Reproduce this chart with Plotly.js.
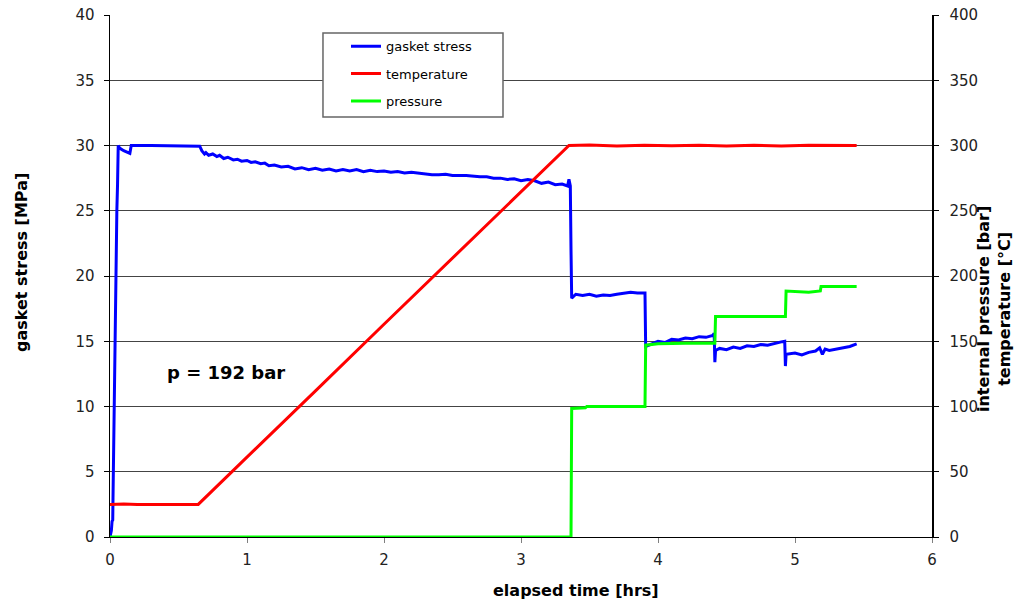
<!DOCTYPE html>
<html><head><meta charset="utf-8">
<script src="https://cdn.plot.ly/plotly-3.0.1.min.js"></script>
<style>html,body{margin:0;padding:0;background:#fff;}#chart{width:1017px;height:607px;}</style>
</head><body><div id="chart"></div>
<script>
const seriesNames = ['gasket stress', 'temperature', 'pressure'];
const xTickValues = [0, 1, 2, 3, 4, 5, 6];

const stressTime = [
  0, 0.01, 0.015, 0.02, 0.022, 0.03, 0.035, 0.04, 0.045, 0.05,
  0.055, 0.06, 0.07, 0.1, 0.145, 0.155, 0.3, 0.5, 0.655, 0.67,
  0.69, 0.7, 0.72, 0.75, 0.78, 0.8, 0.83, 0.86, 0.9, 0.93,
  0.96, 1.0, 1.03, 1.06, 1.1, 1.13, 1.16, 1.2, 1.25, 1.3,
  1.35, 1.4, 1.45, 1.5, 1.55, 1.6, 1.65, 1.7, 1.75, 1.8,
  1.85, 1.9, 1.95, 2.0, 2.05, 2.1, 2.15, 2.2, 2.3, 2.35,
  2.4, 2.45, 2.5, 2.6, 2.7, 2.75, 2.8, 2.85, 2.9, 2.95,
  3.0, 3.05, 3.1, 3.15, 3.2, 3.25, 3.3, 3.34, 3.35, 3.36,
  3.365, 3.37, 3.4, 3.45, 3.5, 3.55, 3.6, 3.65, 3.7, 3.75,
  3.8, 3.85, 3.9, 3.905, 3.91, 3.95, 4.0, 4.05, 4.1, 4.15,
  4.2, 4.25, 4.3, 4.35, 4.4, 4.41, 4.415, 4.42, 4.45, 4.5,
  4.55, 4.6, 4.65, 4.7, 4.75, 4.8, 4.85, 4.9, 4.925, 4.93,
  4.935, 5.0, 5.05, 5.1, 5.15, 5.18, 5.2, 5.22, 5.25, 5.3,
  5.35, 5.4, 5.45
];
const stressValue = [
  0, 0.5, 1.2, 1.3, 3.0, 10, 14, 20, 21, 25,
  27, 30.0, 29.8, 29.6, 29.4, 30.0, 30.0, 29.95, 29.95, 29.6,
  29.35, 29.45, 29.25, 29.35, 29.15, 29.25, 29.0, 29.1, 28.9, 28.95,
  28.8, 28.85, 28.7, 28.75, 28.6, 28.65, 28.45, 28.5, 28.35, 28.4,
  28.2, 28.3, 28.15, 28.25, 28.1, 28.2, 28.05, 28.15, 28.05, 28.15,
  28.0, 28.1, 28.0, 28.05, 27.95, 28.0, 27.9, 27.95, 27.8, 27.75,
  27.75, 27.8, 27.7, 27.7, 27.6, 27.6, 27.5, 27.5, 27.4, 27.45,
  27.3, 27.4, 27.3, 27.1, 27.2, 27.0, 27.05, 26.9, 27.4, 26.9,
  22, 18.3, 18.6, 18.5, 18.6, 18.45, 18.55, 18.5, 18.6, 18.65,
  18.75, 18.7, 18.65, 18.7, 14.6, 14.8, 15.0, 14.9, 15.15, 15.1,
  15.25, 15.2, 15.35, 15.3, 15.45, 15.6, 13.4, 14.3, 14.45, 14.35,
  14.55, 14.45, 14.65, 14.6, 14.75, 14.7, 14.85, 14.95, 15.0, 13.1,
  14.0, 14.1, 13.95, 14.15, 14.25, 14.5, 14.0, 14.4, 14.3, 14.4,
  14.5, 14.6, 14.8
];

const tempTime = [0, 0.1, 0.2, 0.3, 0.4, 0.5, 0.644, 1.0, 1.5, 2.0, 2.5, 3.0, 3.35,
  3.5, 3.7, 3.9, 4.1, 4.3, 4.5, 4.7, 4.9, 5.1, 5.3, 5.45];
const tempValue = [25, 25.3, 24.9, 25.1, 24.9, 25, 25, 61, 112, 163, 214, 265, 300,
  300.3, 299.7, 300.2, 299.8, 300.2, 299.6, 300.1, 299.7, 300.2, 299.8, 300];

const pressureTime = [0, 3.365, 3.37, 3.47, 3.48, 3.905, 3.91, 4.0, 4.2, 4.415, 4.42,
  4.93, 4.935, 5.05, 5.1, 5.185, 5.19, 5.45];
const pressureValue = [0, 0, 98.5, 99, 100, 100, 147, 148, 148.5, 148.5, 169,
  169, 188.5, 188, 187.5, 188.5, 192, 192];

const FONT = 'DejaVu Sans';

const traces = [
  {x: stressTime, y: stressValue, name: seriesNames[0], legendgroup: 'g1', yaxis: 'y',
   mode: 'lines', line: {color: '#0000FF', width: 3}},
  {x: tempTime, y: tempValue, name: seriesNames[1], legendgroup: 'g2', yaxis: 'y2',
   mode: 'lines', line: {color: '#FF0000', width: 3}},
  {x: pressureTime, y: pressureValue, name: seriesNames[2], legendgroup: 'g3', yaxis: 'y2',
   mode: 'lines', line: {color: '#00FF00', width: 3}}
];

const layout = {
  width: 1017, height: 607,
  margin: {l: 110, r: 85, t: 15, b: 70, pad: 0},
  paper_bgcolor: '#fff', plot_bgcolor: '#fff',
  font: {family: FONT, color: '#222'},
  showlegend: true,
  legend: {
    x: 0.2871, y: 0.969, xanchor: 'left', yanchor: 'top',
    bgcolor: 'rgba(0,0,0,0)', borderwidth: 0,
    font: {family: FONT, size: 13, color: '#000'},
    traceorder: 'grouped', tracegroupgap: 7.5
  },
  xaxis: {
    range: [0, 6], tickvals: xTickValues, ticks: 'outside', ticklen: 5, tickcolor: '#808080',
    showgrid: false, zeroline: false, showline: true, linecolor: '#000', linewidth: 1,
    tickfont: {family: FONT, size: 15, color: '#222'}, ticklabelstandoff: 4
  },
  yaxis: {
    range: [0, 40], tick0: 0, dtick: 5, ticks: 'outside', ticklen: 5, tickcolor: '#000',
    showgrid: true, gridcolor: '#444', gridwidth: 1, zeroline: false,
    showline: true, linecolor: '#000', linewidth: 1.5,
    tickfont: {family: FONT, size: 15, color: '#222'}, ticklabelstandoff: 6
  },
  yaxis2: {
    range: [0, 400], tick0: 0, dtick: 50, overlaying: 'y', side: 'right',
    ticks: 'outside', ticklen: 5, tickcolor: '#000', showgrid: false, zeroline: false,
    showline: true, linecolor: '#000', linewidth: 1.5,
    tickfont: {family: FONT, size: 15, color: '#222'}, ticklabelstandoff: 8
  },
  shapes: [
    {type: 'rect', xref: 'paper', yref: 'paper', x0: 0.2591, x1: 0.4781, y0: 0.8046, y1: 0.9655,
     line: {color: '#666', width: 1.5}, fillcolor: '#fff', layer: 'above'}
  ],
  annotations: [
    {text: '<b>p = 192 bar</b>', xref: 'x', yref: 'y', x: 0.401, y: 12.57,
     xanchor: 'left', yanchor: 'middle', showarrow: false,
     font: {family: FONT, size: 18, color: '#000'}},
    {text: '<b>elapsed time [hrs]</b>', xref: 'paper', yref: 'paper', x: 0.5675, y: -0.1034,
     xanchor: 'center', yanchor: 'middle', showarrow: false,
     font: {family: FONT, size: 16, color: '#000'}},
    {text: '<b>gasket stress [MPa]</b>', xref: 'paper', yref: 'paper', x: -0.1083, y: 0.5268,
     xanchor: 'center', yanchor: 'middle', showarrow: false, textangle: -90,
     font: {family: FONT, size: 16, color: '#000'}},
    {text: '<b>internal pressure [bar]<br>temperature [°C]</b>', xref: 'paper', yref: 'paper',
     x: 1.0748, y: 0.4377, xanchor: 'center', yanchor: 'middle', showarrow: false, textangle: -90,
     font: {family: FONT, size: 16, color: '#000'}}
  ]
};

Plotly.newPlot('chart', traces, layout, {displayModeBar: false, staticPlot: true});
</script>
</body></html>
